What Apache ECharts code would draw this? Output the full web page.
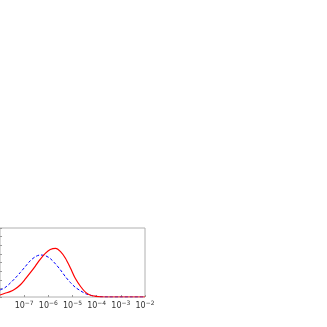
<!DOCTYPE html>
<html>
<head>
<meta charset="utf-8">
<script src="https://cdn.jsdelivr.net/npm/echarts@6/dist/echarts.min.js"></script>
<style>
  html, body { margin: 0; padding: 0; background: #fff; }
  #chart { width: 327px; height: 327px; }
</style>
</head>
<body>
<div id="chart"></div>
<script>
// x positions (log scale)
const xValues = [1e-8, 1.6e-8, 2.6e-8, 4.2e-8, 6.8e-8, 1.1e-7, 1.8e-7, 2.9e-7, 4.6e-7, 7.5e-7,
    1.2e-6, 2e-6, 3.2e-6, 5.1e-6, 8.3e-6, 1.3e-5, 2.2e-5, 3.5e-5, 5.6e-5, 9.1e-5,
    1.5e-4, 3e-4, 1e-3, 3e-3, 1e-2];
const redValues = [0.023, 0.043, 0.062, 0.093, 0.139, 0.206, 0.282, 0.359, 0.437, 0.506,
    0.550, 0.564, 0.526, 0.449, 0.333, 0.217, 0.119, 0.054, 0.020, 0.008,
    0.002, 0, 0, 0, 0];
const blueValues = [0.081, 0.108, 0.159, 0.217, 0.282, 0.351, 0.421, 0.467, 0.487, 0.479,
    0.446, 0.382, 0.313, 0.235, 0.166, 0.113, 0.070, 0.038, 0.020, 0.008,
    0.003, 0, 0, 0, 0];

const chart = echarts.init(document.getElementById('chart'));

const pair = (xs, ys) => xs.map((x, i) => [x, ys[i]]);

chart.setOption({
    animation: false,
    grid: {
        left: 0,
        right: 182,
        top: 228,
        bottom: 30,
        show: true,
        borderColor: '#b0b0b0',
        borderWidth: 1
    },
    xAxis: {
        type: 'log',
        logBase: 10,
        min: 1e-8,
        max: 1e-2,
        axisLine: { show: false },
        axisTick: { show: true, inside: true, length: 2, lineStyle: { color: '#999' } },
        minorTick: { show: false },
        splitLine: { show: false },
        axisLabel: {
            margin: 3,
            showMinLabel: false,
            formatter: v => {
                const e = Math.round(Math.log10(v));
                return '{b|10}{s|\u2212' + Math.abs(e) + '}';
            },
            rich: {
                b: { fontSize: 8, color: '#333', fontFamily: 'DejaVu Sans' },
                s: { fontSize: 6, color: '#333', fontFamily: 'DejaVu Sans', padding: [0, 0, 5, 0] }
            }
        }
    },
    yAxis: {
        type: 'value',
        min: 0,
        max: 0.8,
        interval: 0.1,
        axisLine: { show: false },
        axisTick: { show: true, inside: true, length: 2, lineStyle: { color: '#999' } },
        axisLabel: { show: false },
        splitLine: { show: false }
    },
    series: [
        {
            type: 'line',
            data: pair(xValues, blueValues),
            smooth: 0.3,
            showSymbol: false,
            lineStyle: { color: '#0000ff', width: 1, type: [3, 2] },
            z: 2
        },
        {
            type: 'line',
            data: pair(xValues, redValues),
            smooth: 0.3,
            showSymbol: false,
            lineStyle: { color: '#ff0000', width: 1.2 },
            z: 3
        }
    ]
});
</script>
</body>
</html>
